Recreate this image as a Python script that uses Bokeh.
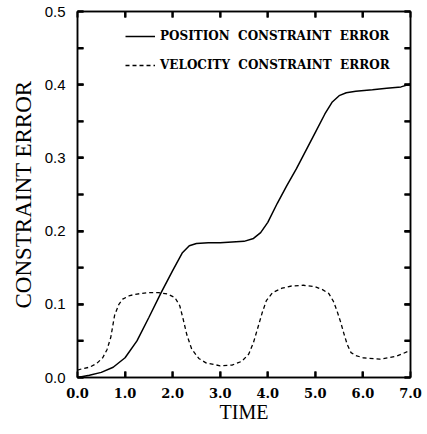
from bokeh.plotting import figure
from bokeh.models import (Range1d, LinearAxis, SingleIntervalTicker, NumeralTickFormatter,
                          Legend, LegendItem, ColumnDataSource, CustomJSTickFormatter)
from bokeh.embed import file_html
from bokeh.resources import INLINE

# ---- data ----
pos_t = [0.0, 0.25, 0.5, 0.75, 1.0, 1.25, 1.5, 1.75, 2.0, 2.2, 2.35, 2.5, 2.75, 3.0, 3.25,
         3.5, 3.7, 3.85, 4.0, 4.2, 4.4, 4.6, 4.8, 5.0, 5.2, 5.35, 5.5, 5.65, 5.85, 6.2,
         6.5, 6.8, 7.0]
pos_err = [0.0, 0.003, 0.007, 0.014, 0.027, 0.05, 0.082, 0.115, 0.146, 0.17, 0.18, 0.183,
           0.184, 0.184, 0.185, 0.186, 0.19, 0.198, 0.212, 0.238, 0.262, 0.285, 0.31, 0.335,
           0.36, 0.376, 0.385, 0.389, 0.391, 0.393, 0.395, 0.397, 0.401]

vel_t = [0.0, 0.1, 0.25, 0.4, 0.53, 0.62, 0.7, 0.78, 0.87, 0.95, 1.1, 1.25, 1.5, 1.7, 1.9,
         2.05, 2.15, 2.22, 2.3, 2.4, 2.55, 2.7, 3.0, 3.25, 3.45, 3.6, 3.7, 3.8, 3.88, 3.97,
         4.1, 4.3, 4.5, 4.75, 5.0, 5.15, 5.28, 5.38, 5.46, 5.53, 5.6, 5.67, 5.75, 5.85,
         6.0, 6.35, 6.7, 7.0]
vel_err = [0.010, 0.012, 0.014, 0.019, 0.027, 0.038, 0.055, 0.085, 0.100, 0.107, 0.112,
           0.114, 0.116, 0.116, 0.114, 0.109, 0.098, 0.08, 0.058, 0.039, 0.026, 0.020,
           0.016, 0.017, 0.022, 0.032, 0.048, 0.07, 0.088, 0.105, 0.116, 0.122, 0.125,
           0.126, 0.124, 0.12, 0.115, 0.104, 0.09, 0.076, 0.06, 0.045, 0.034, 0.03,
           0.027, 0.025, 0.029, 0.037]

x_ticks = [1.0, 2.0, 3.0, 4.0, 5.0, 6.0]
y_ticks = [0.05, 0.1, 0.15, 0.2, 0.25, 0.3, 0.35, 0.4, 0.45]

labels = ["POSITION  CONSTRAINT  ERROR", "VELOCITY  CONSTRAINT  ERROR"]
x_title = "TIME"
y_title = "CONSTRAINT ERROR"

X0, X1, Y0, Y1 = 0.0, 7.0, 0.0, 0.5
W, H = 426, 433
BL, BR, BT, BB = 77, 16, 11, 56
FW, FH = W - BL - BR, H - BT - BB
TICK = 6  # inward tick length, px
TW = 2    # tick line width

p = figure(width=W, height=H, output_backend="svg", toolbar_location=None,
           x_range=Range1d(X0, X1), y_range=Range1d(Y0, Y1),
           min_border_left=BL, min_border_right=BR, min_border_top=BT, min_border_bottom=BB)
p.grid.visible = False
p.outline_line_color = "black"
p.outline_line_width = 1.5
p.background_fill_color = "white"
p.border_fill_color = "white"

xt = SingleIntervalTicker(interval=1.0, num_minor_ticks=0)
yt = SingleIntervalTicker(interval=0.1, num_minor_ticks=2)

for ax in p.xaxis:
    ax.ticker = xt
    ax.formatter = NumeralTickFormatter(format="0.0")
    ax.major_label_text_font = "DejaVu Serif"
    ax.major_label_text_font_style = "bold"
    ax.major_label_text_font_size = "13px"
for ax in p.yaxis:
    ax.ticker = yt
    ax.formatter = NumeralTickFormatter(format="0.0")
    ax.major_label_text_font = "Liberation Sans"
    ax.major_label_text_font_style = "normal"
    ax.major_label_text_font_size = "15px"

for ax in list(p.xaxis) + list(p.yaxis):
    ax.major_tick_in = TICK
    ax.major_tick_out = 0
    ax.minor_tick_in = TICK
    ax.minor_tick_out = 0
    ax.axis_line_color = "black"
    ax.major_tick_line_color = "black"
    ax.minor_tick_line_color = "black"
    ax.axis_line_width = 1.5
    ax.major_tick_line_width = TW
    ax.minor_tick_line_width = TW
    ax.major_label_text_color = "black"
    ax.axis_label_text_font = "Liberation Serif"
    ax.axis_label_text_font_style = "normal"
    ax.axis_label_text_color = "black"

p.xaxis.axis_label = x_title
p.yaxis.axis_label = y_title
p.xaxis.axis_label_text_font_size = "20px"
p.yaxis.axis_label_text_font_size = "23px"
p.xaxis.major_label_standoff = 10
p.xaxis.axis_label_standoff = 0
p.yaxis.major_label_standoff = 12
p.yaxis.axis_label_standoff = 6

# extra axes on top and right: ticks only
blank = CustomJSTickFormatter(code="return ''")
for loc, ticker in (("above", xt), ("right", yt)):
    a = LinearAxis(ticker=ticker, formatter=blank, major_label_standoff=0,
                   major_tick_in=TICK, major_tick_out=0, minor_tick_in=TICK, minor_tick_out=0,
                   axis_line_width=1.5, major_tick_line_width=TW, minor_tick_line_width=TW,
                   axis_line_color="black", major_tick_line_color="black",
                   minor_tick_line_color="black")
    p.add_layout(a, loc)

# inward tick marks also drawn as small filled bars (same positions as the axis ticks)
hy = 0.5 * TICK * (Y1 - Y0) / FH
hx = 0.5 * TICK * (X1 - X0) / FW
n_x, n_y = len(x_ticks), len(y_ticks)
xbar = ColumnDataSource(dict(x=x_ticks + x_ticks,
                             y=[Y0 + hy] * n_x + [Y1 - hy] * n_x))
ybar = ColumnDataSource(dict(x=[X0 + hx] * n_y + [X1 - hx] * n_y,
                             y=y_ticks + y_ticks))
p.rect("x", "y", width=TW, height=TICK, width_units="screen", height_units="screen",
       source=xbar, fill_color="black", line_color=None)
p.rect("x", "y", width=TICK, height=TW, width_units="screen", height_units="screen",
       source=ybar, fill_color="black", line_color=None)

src_pos = ColumnDataSource(dict(t=pos_t, e=pos_err))
src_vel = ColumnDataSource(dict(t=vel_t, e=vel_err))
r1 = p.line("t", "e", source=src_pos, line_color="black", line_width=1.5)
r2 = p.line("t", "e", source=src_vel, line_color="black", line_width=1.3, line_dash="4 3")

legend = Legend(items=[LegendItem(label=labels[0], renderers=[r1]),
                       LegendItem(label=labels[1], renderers=[r2])],
                location=(48, 302), border_line_color=None, background_fill_alpha=0,
                padding=0, margin=0, spacing=9, glyph_width=30, glyph_height=20,
                label_height=20, label_standoff=5,
                label_text_font="DejaVu Serif", label_text_font_style="bold",
                label_text_font_size="12px", label_text_color="black")
p.add_layout(legend)

open("out.html", "w").write(file_html(p, INLINE))
